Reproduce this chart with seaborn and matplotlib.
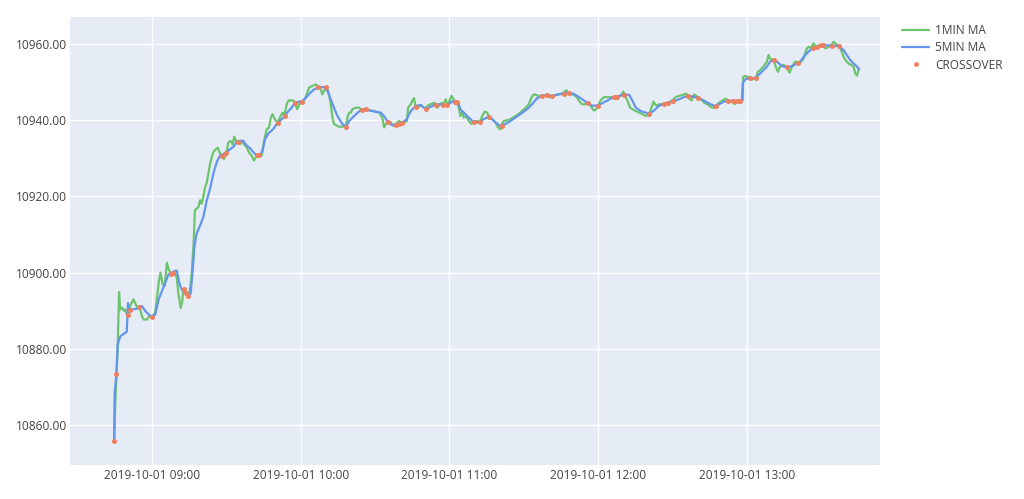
import matplotlib
matplotlib.use("Agg")
import matplotlib.pyplot as plt
import matplotlib.dates as mdates
from matplotlib.lines import Line2D
from matplotlib.ticker import FormatStrFormatter
import pandas as pd
import seaborn as sns

START = pd.Timestamp("2019-10-01 09:00")

# minutes after 09:00 and price
MA1_MIN = [
    -15.3, -14.8, -14.2, -13.8, -13.3, -12.9, -12.0, -11.4, -10.8, -10.2, -9.8, -8.7, -7.5, -6.0, -5.1,
    -4.0, -3.4, -2.0, -1.3, 0.0, 1.3, 2.7, 3.4, 4.3, 5.1, 6.0, 6.7, 7.7, 9.0, 10.0, 10.6, 11.6, 12.2,
    12.6, 13.7, 14.7, 15.4, 16.0, 16.7, 17.3, 18.0, 18.7, 19.4, 20.0, 20.7, 21.4, 22.1, 22.7, 23.4,
    24.1, 24.7, 25.7, 26.5, 27.2, 28.1, 29.0, 29.9, 30.8, 31.7, 32.5, 33.2, 33.9, 34.5, 35.5, 36.6,
    37.1, 38.2, 39.1, 40.2, 41.1, 41.9, 42.5, 43.6, 44.2, 45.2, 46.3, 47.2, 47.9, 48.6, 49.2, 50.0,
    50.7, 51.6, 52.6, 53.4, 54.3, 55.1, 55.9, 57.0, 57.7, 58.6, 59.4, 60.4, 61.7, 62.4, 63.4, 64.7,
    66.1, 67.0, 68.1, 68.7, 70.1, 70.8, 71.4, 72.1, 72.8, 73.4, 74.5, 75.5, 76.8, 78.2, 78.8, 79.5,
    80.2, 80.8, 82.2, 83.5, 84.9, 86.2, 87.6, 89.6, 91.6, 92.9, 93.6, 94.3, 95.2, 96.3, 97.4, 98.3,
    99.7, 100.7, 101.7, 102.8, 103.3, 104.4, 105.0, 105.7, 106.4, 107.3, 108.4, 109.7, 110.4, 111.1,
    112.4, 113.8, 114.5, 115.1, 116.2, 117.1, 117.5, 118.5, 119.2, 120.0, 120.8, 122.2, 123.1, 123.8,
    124.4, 125.1, 125.8, 126.7, 127.8, 128.9, 129.8, 131.2, 132.2, 133.2, 134.3, 135.2, 135.9, 137.2,
    138.6, 139.6, 140.6, 141.0, 141.9, 143.3, 144.6, 146.6, 148.6, 150.7, 152.0, 153.1, 154.0, 155.0,
    156.0, 157.4, 158.7, 159.4, 160.3, 161.4, 162.8, 164.1, 165.4, 167.1, 168.1, 169.2, 170.2, 171.5,
    172.2, 173.5, 174.9, 175.9, 176.9, 178.2, 178.7, 180.0, 180.8, 182.2, 183.5, 184.8, 186.5, 187.8,
    189.1, 190.1, 190.9, 191.8, 192.9, 193.8, 195.2, 196.5, 197.9, 199.2, 200.6, 201.5, 202.3, 202.9,
    203.7, 204.6, 206.0, 208.0, 210.0, 211.3, 212.7, 214.0, 215.4, 216.3, 217.0, 217.7, 218.7, 220.3,
    221.4, 222.8, 224.1, 225.4, 226.8, 227.5, 228.8, 230.2, 231.5, 232.4, 233.5, 234.2, 235.1, 236.2,
    237.3, 238.3, 238.5, 239.3, 240.4, 241.3, 242.0, 242.7, 243.6, 244.4, 245.4, 246.7, 248.1, 248.7,
    249.4, 250.8, 251.4, 252.5, 253.4, 254.8, 256.1, 256.5, 257.2, 258.2, 259.5, 260.8, 261.9, 262.9,
    263.5, 264.2, 265.1, 265.9, 266.9, 267.6, 269.2, 270.9, 271.6, 272.7, 274.0, 275.0, 275.6, 277.0,
    277.6, 278.3, 279.0, 279.7, 281.0, 282.1, 283.0, 283.7, 284.4, 285.0,
]
MA1_VAL = [
    10855.7, 10866.0, 10875.0, 10882.0, 10894.9, 10890.3, 10890.8, 10890.0, 10890.3, 10889.0, 10889.0,
    10891.5, 10893.0, 10890.8, 10891.0, 10888.5, 10887.7, 10887.7, 10888.5, 10888.5, 10889.5, 10897.4,
    10900.0, 10896.9, 10896.5, 10902.6, 10900.9, 10899.6, 10899.8, 10898.7, 10894.6, 10890.7, 10892.5,
    10895.5, 10895.0, 10893.9, 10896.0, 10899.8, 10906.8, 10916.3, 10916.8, 10917.2, 10919.0, 10918.1,
    10920.0, 10922.4, 10923.7, 10925.9, 10928.5, 10930.3, 10931.6, 10932.4, 10932.8, 10931.6, 10930.7,
    10929.8, 10931.1, 10934.2, 10934.6, 10933.7, 10935.7, 10934.6, 10934.4, 10933.7, 10934.6, 10933.7,
    10932.9, 10931.6, 10930.7, 10929.4, 10930.3, 10930.9, 10930.9, 10930.7, 10934.6, 10937.7, 10938.1,
    10940.7, 10941.6, 10940.7, 10939.8, 10939.4, 10940.7, 10942.0, 10941.1, 10944.2, 10945.2, 10945.2,
    10945.2, 10944.4, 10942.9, 10944.2, 10944.6, 10945.6, 10946.8, 10948.6, 10949.0, 10949.4, 10948.7,
    10948.1, 10946.8, 10948.6, 10948.1, 10946.8, 10944.2, 10940.7, 10939.0, 10938.6, 10938.3, 10938.3,
    10938.3, 10940.7, 10942.0, 10942.0, 10942.9, 10943.3, 10943.3, 10942.6, 10942.9, 10942.6, 10942.4,
    10942.0, 10940.7, 10938.1, 10939.0, 10939.7, 10939.4, 10938.5, 10939.0, 10939.8, 10939.1, 10939.4,
    10939.8, 10943.3, 10944.2, 10945.1, 10945.8, 10943.3, 10943.3, 10944.0, 10943.3, 10943.1, 10943.8,
    10944.2, 10944.6, 10944.0, 10943.3, 10944.2, 10944.6, 10943.8, 10945.5, 10943.8, 10945.1, 10946.4,
    10944.9, 10944.6, 10943.3, 10941.1, 10942.0, 10940.7, 10941.1, 10939.8, 10939.0, 10939.6, 10939.8,
    10939.4, 10941.1, 10942.3, 10942.0, 10940.9, 10940.3, 10939.4, 10938.1, 10937.6, 10938.7, 10939.8,
    10940.0, 10940.3, 10941.1, 10942.0, 10943.3, 10944.2, 10946.0, 10946.8, 10946.6, 10946.4, 10946.4,
    10946.6, 10946.6, 10946.0, 10946.1, 10946.6, 10946.8, 10946.9, 10947.9, 10947.0, 10946.8, 10946.6,
    10946.0, 10945.1, 10944.2, 10944.2, 10944.4, 10943.8, 10942.6, 10942.6, 10943.7, 10945.1, 10946.0,
    10946.1, 10946.0, 10946.1, 10946.1, 10946.4, 10947.5, 10946.4, 10945.1, 10943.3, 10942.9, 10942.4,
    10942.0, 10941.6, 10941.1, 10941.7, 10943.3, 10944.9, 10944.2, 10943.8, 10944.2, 10944.2, 10944.6,
    10945.2, 10946.1, 10946.4, 10946.6, 10947.0, 10946.4, 10945.5, 10945.2, 10946.8, 10946.0, 10945.5,
    10944.6, 10944.2, 10943.5, 10943.2, 10943.8, 10944.6, 10945.2, 10945.7, 10945.1, 10944.9, 10945.2,
    10944.2, 10945.1, 10945.1, 10945.3, 10951.4, 10951.6, 10951.4, 10951.0, 10950.6, 10951.0, 10951.0,
    10952.7, 10953.2, 10954.1, 10955.4, 10957.1, 10956.2, 10955.8, 10954.5, 10952.7, 10954.1, 10954.5,
    10953.9, 10953.2, 10952.5, 10954.1, 10955.4, 10955.2, 10955.4, 10956.2, 10957.6, 10958.9, 10959.3,
    10958.9, 10960.2, 10959.3, 10959.7, 10959.7, 10958.9, 10959.1, 10959.7, 10960.6, 10960.2, 10959.5,
    10958.9, 10958.0, 10956.7, 10955.8, 10954.9, 10954.5, 10954.1, 10952.3, 10951.7, 10953.2,
]

MA5_MIN = [
    -15.3, -15.1, -14.4, -13.85, -12.8, -11.0, -10.2, -9.7, -9.3, -8.2, -6.2, -4.0, -2.7, -1.3, 0.0, 1.3,
    2.7, 4.0, 5.4, 6.7, 8.0, 9.3, 10.0, 11.0, 12.0, 13.3, 14.7, 15.6, 16.4, 17.1, 18.0, 19.4, 20.7,
    22.1, 23.4, 24.7, 26.1, 27.4, 28.8, 30.1, 31.5, 32.8, 34.2, 35.5, 36.8, 38.2, 39.5, 40.9, 42.2,
    43.6, 44.6, 45.6, 46.9, 48.9, 50.3, 51.6, 53.6, 55.0, 56.3, 57.7, 59.7, 61.0, 62.4, 64.0, 65.4,
    67.4, 69.4, 70.8, 72.1, 73.4, 74.8, 76.8, 78.2, 79.5, 81.5, 83.5, 85.5, 87.5, 89.6, 92.3, 93.6,
    95.2, 97.0, 99.0, 101.0, 102.8, 104.4, 106.4, 108.4, 110.4, 112.4, 114.5, 116.5, 118.4, 120.4,
    121.7, 123.5, 124.4, 125.8, 127.1, 128.5, 129.8, 131.2, 132.5, 133.8, 135.9, 137.2, 138.6, 140.6,
    142.6, 144.6, 146.6, 148.6, 150.7, 152.0, 153.3, 155.4, 157.4, 159.4, 161.4, 164.1, 166.1, 168.1,
    170.2, 171.5, 173.5, 175.5, 177.5, 180.0, 181.7, 183.8, 185.8, 187.8, 190.5, 192.5, 193.8, 195.2,
    197.2, 199.2, 200.6, 202.6, 204.6, 206.6, 208.6, 210.7, 212.7, 214.7, 216.7, 218.7, 220.7, 222.8,
    224.8, 226.8, 228.8, 230.8, 232.8, 234.9, 238.0, 238.3, 239.3, 240.7, 242.7, 244.0, 246.0, 248.1,
    249.4, 250.8, 252.1, 254.1, 256.1, 258.2, 260.2, 261.5, 263.5, 265.5, 267.6, 269.6, 271.6, 273.6,
    275.6, 277.0, 279.0, 280.3, 281.7, 283.0, 284.4, 285.3,
]
MA5_VAL = [
    10855.7, 10868.3, 10873.3, 10881.1, 10883.3, 10884.1, 10884.5, 10892.0, 10890.3, 10890.3, 10890.5,
    10891.2, 10889.9, 10889.0, 10888.3, 10889.0, 10893.0, 10895.2, 10897.4, 10899.6, 10900.0, 10900.5,
    10900.5, 10897.2, 10895.5, 10894.6, 10893.6, 10894.6, 10900.7, 10906.8, 10910.3, 10912.4, 10914.6,
    10919.0, 10922.0, 10925.9, 10929.0, 10930.7, 10931.1, 10931.6, 10932.4, 10933.0, 10934.3, 10934.6,
    10934.6, 10933.3, 10932.7, 10931.6, 10930.7, 10930.9, 10932.0, 10935.0, 10936.5, 10937.7, 10939.0,
    10939.8, 10941.1, 10942.4, 10943.3, 10944.6, 10944.9, 10945.2, 10946.2, 10947.3, 10948.1, 10948.7,
    10948.7, 10947.7, 10945.5, 10943.3, 10941.1, 10939.0, 10938.3, 10939.8, 10941.1, 10942.3, 10942.9,
    10942.6, 10942.3, 10942.0, 10941.1, 10939.4, 10938.7, 10939.0, 10939.4, 10940.3, 10942.4, 10943.8,
    10944.0, 10942.9, 10943.5, 10944.2, 10944.2, 10943.8, 10944.6, 10945.1, 10944.6, 10942.9, 10942.0,
    10941.1, 10940.3, 10939.4, 10939.4, 10939.6, 10940.3, 10940.9, 10940.3, 10939.4, 10938.5, 10939.0,
    10939.8, 10940.7, 10941.6, 10942.6, 10943.3, 10944.2, 10945.8, 10946.4, 10946.6, 10946.4, 10946.8,
    10947.1, 10947.3, 10946.9, 10946.4, 10945.5, 10944.6, 10943.8, 10943.9, 10944.5, 10945.2, 10946.0,
    10946.3, 10946.7, 10946.7, 10945.1, 10943.3, 10942.4, 10942.0, 10941.7, 10942.6, 10943.8, 10944.4,
    10944.6, 10945.1, 10945.5, 10946.1, 10946.4, 10946.1, 10945.8, 10945.1, 10944.4, 10943.8, 10944.2,
    10944.9, 10945.1, 10945.1, 10944.9, 10949.7, 10950.7, 10951.0, 10951.0, 10951.4, 10952.7, 10954.1,
    10955.4, 10955.8, 10955.4, 10954.2, 10953.9, 10954.2, 10954.9, 10955.4, 10957.1, 10958.4, 10959.1,
    10959.6, 10959.7, 10959.6, 10959.5, 10959.5, 10958.4, 10957.1, 10955.8, 10954.9, 10954.1, 10953.4,
]

CROSS_MIN = [
    -15.3, -14.4, -9.8, -8.7, -5.1, 0.0, 7.5, 8.3, 12.8, 13.8, 14.7, 28.1, 29.8, 34.6, 42.5, 43.2,
    50.7, 53.6, 57.7, 60.4, 67.0, 70.1, 78.2, 84.6, 86.5, 95.2, 98.3, 99.7, 100.7, 106.4, 110.4,
    114.5, 117.5, 119.2, 122.2, 123.1, 129.8, 132.2, 135.9, 141.0, 157.4, 159.4, 161.4, 166.1,
    168.1, 175.9, 180.0, 186.5, 187.5, 190.5, 200.6, 206.6, 208.0, 210.0, 216.3, 220.3, 227.5,
    232.4, 234.2, 236.0, 237.3, 241.3, 243.6, 250.8, 256.1, 260.8, 266.5, 268.2, 270.0, 270.9,
    274.3, 277.0,
]
CROSS_VAL = [
    10855.7, 10873.3, 10889.0, 10890.3, 10891.0, 10888.4, 10899.7, 10899.9, 10895.6, 10894.7, 10893.8,
    10930.7, 10931.3, 10934.3, 10930.8, 10930.9, 10939.4, 10941.1, 10944.5, 10944.7, 10948.7, 10948.6,
    10938.3, 10942.6, 10942.9, 10939.5, 10938.8, 10939.0, 10939.2, 10943.5, 10943.0, 10944.1, 10943.9,
    10943.9, 10944.9, 10944.8, 10939.5, 10939.5, 10940.9, 10938.6, 10946.4, 10946.6, 10946.3, 10947.0,
    10947.2, 10944.4, 10943.8, 10946.1, 10946.2, 10946.7, 10941.7, 10944.3, 10944.6, 10945.0, 10946.4,
    10945.9, 10943.8, 10945.1, 10945.1, 10945.0, 10945.0, 10951.0, 10951.1, 10955.8, 10953.9, 10955.0,
    10959.0, 10959.3, 10959.7, 10959.7, 10959.6, 10959.5,
]

Y_TICKS = [10860, 10880, 10900, 10920, 10940, 10960]
X_TICK_HOURS = [0, 1, 2, 3, 4]

GREEN = "#6cc46c"
BLUE = "#6495ed"
ORANGE = "#ef7f5f"


def to_frame(minutes, values):
    return pd.DataFrame({
        "time": START + pd.to_timedelta(minutes, unit="min"),
        "price": values,
    })


sns.set_theme(
    style="darkgrid",
    rc={
        "axes.facecolor": "#E5ECF6",
        "grid.color": "white",
        "grid.linewidth": 1.0,
        "axes.edgecolor": "#E5ECF6",
    },
)
plt.rcParams["font.family"] = ["Open Sans", "DejaVu Sans"]

fig = plt.figure(figsize=(10.24, 4.99), dpi=100)
ax = fig.add_axes([70 / 1024, 1 - 465 / 499, 810 / 1024, 448 / 499])

sns.lineplot(data=to_frame(MA1_MIN, MA1_VAL), x="time", y="price", ax=ax,
             color=GREEN, linewidth=1.6, sort=False, estimator=None, legend=False)
sns.lineplot(data=to_frame(MA5_MIN, MA5_VAL), x="time", y="price", ax=ax,
             color=BLUE, linewidth=1.6, sort=False, estimator=None, legend=False)
sns.scatterplot(data=to_frame(CROSS_MIN, CROSS_VAL), x="time", y="price", ax=ax,
                color=ORANGE, s=13, linewidth=0, zorder=5, legend=False)

ax.set_xlim(START - pd.Timedelta(minutes=33.1), START + pd.Timedelta(minutes=293.7))
ax.set_ylim(10849.5, 10967.1)
ax.set_yticks(Y_TICKS)
ax.yaxis.set_major_formatter(FormatStrFormatter("%.2f"))
ax.set_xticks([START + pd.Timedelta(hours=h) for h in X_TICK_HOURS])
ax.xaxis.set_major_formatter(mdates.DateFormatter("%Y-%m-%d %H:%M"))
ax.tick_params(axis="both", length=0, labelsize=8.6, labelcolor="#444444")
ax.tick_params(axis="y", pad=2)
ax.tick_params(axis="x", pad=3)
ax.set_xlabel("")
ax.set_ylabel("")
for spine in ax.spines.values():
    spine.set_visible(False)

handles = [
    Line2D([], [], color=GREEN, linewidth=1.6),
    Line2D([], [], color=BLUE, linewidth=1.6),
    Line2D([], [], color=ORANGE, marker="o", linestyle="", markersize=3.5, markeredgewidth=0),
]
fig.legend(handles, ["1MIN MA", "5MIN MA", "CROSSOVER"], loc="upper left",
           bbox_to_anchor=(902 / 1024, 1 - 24 / 499), frameon=False, fontsize=8.6,
           handlelength=2.3, handletextpad=0.45, labelspacing=0.36, borderaxespad=0,
           borderpad=0, labelcolor="#444444")

fig.savefig("out.png", dpi=100)
